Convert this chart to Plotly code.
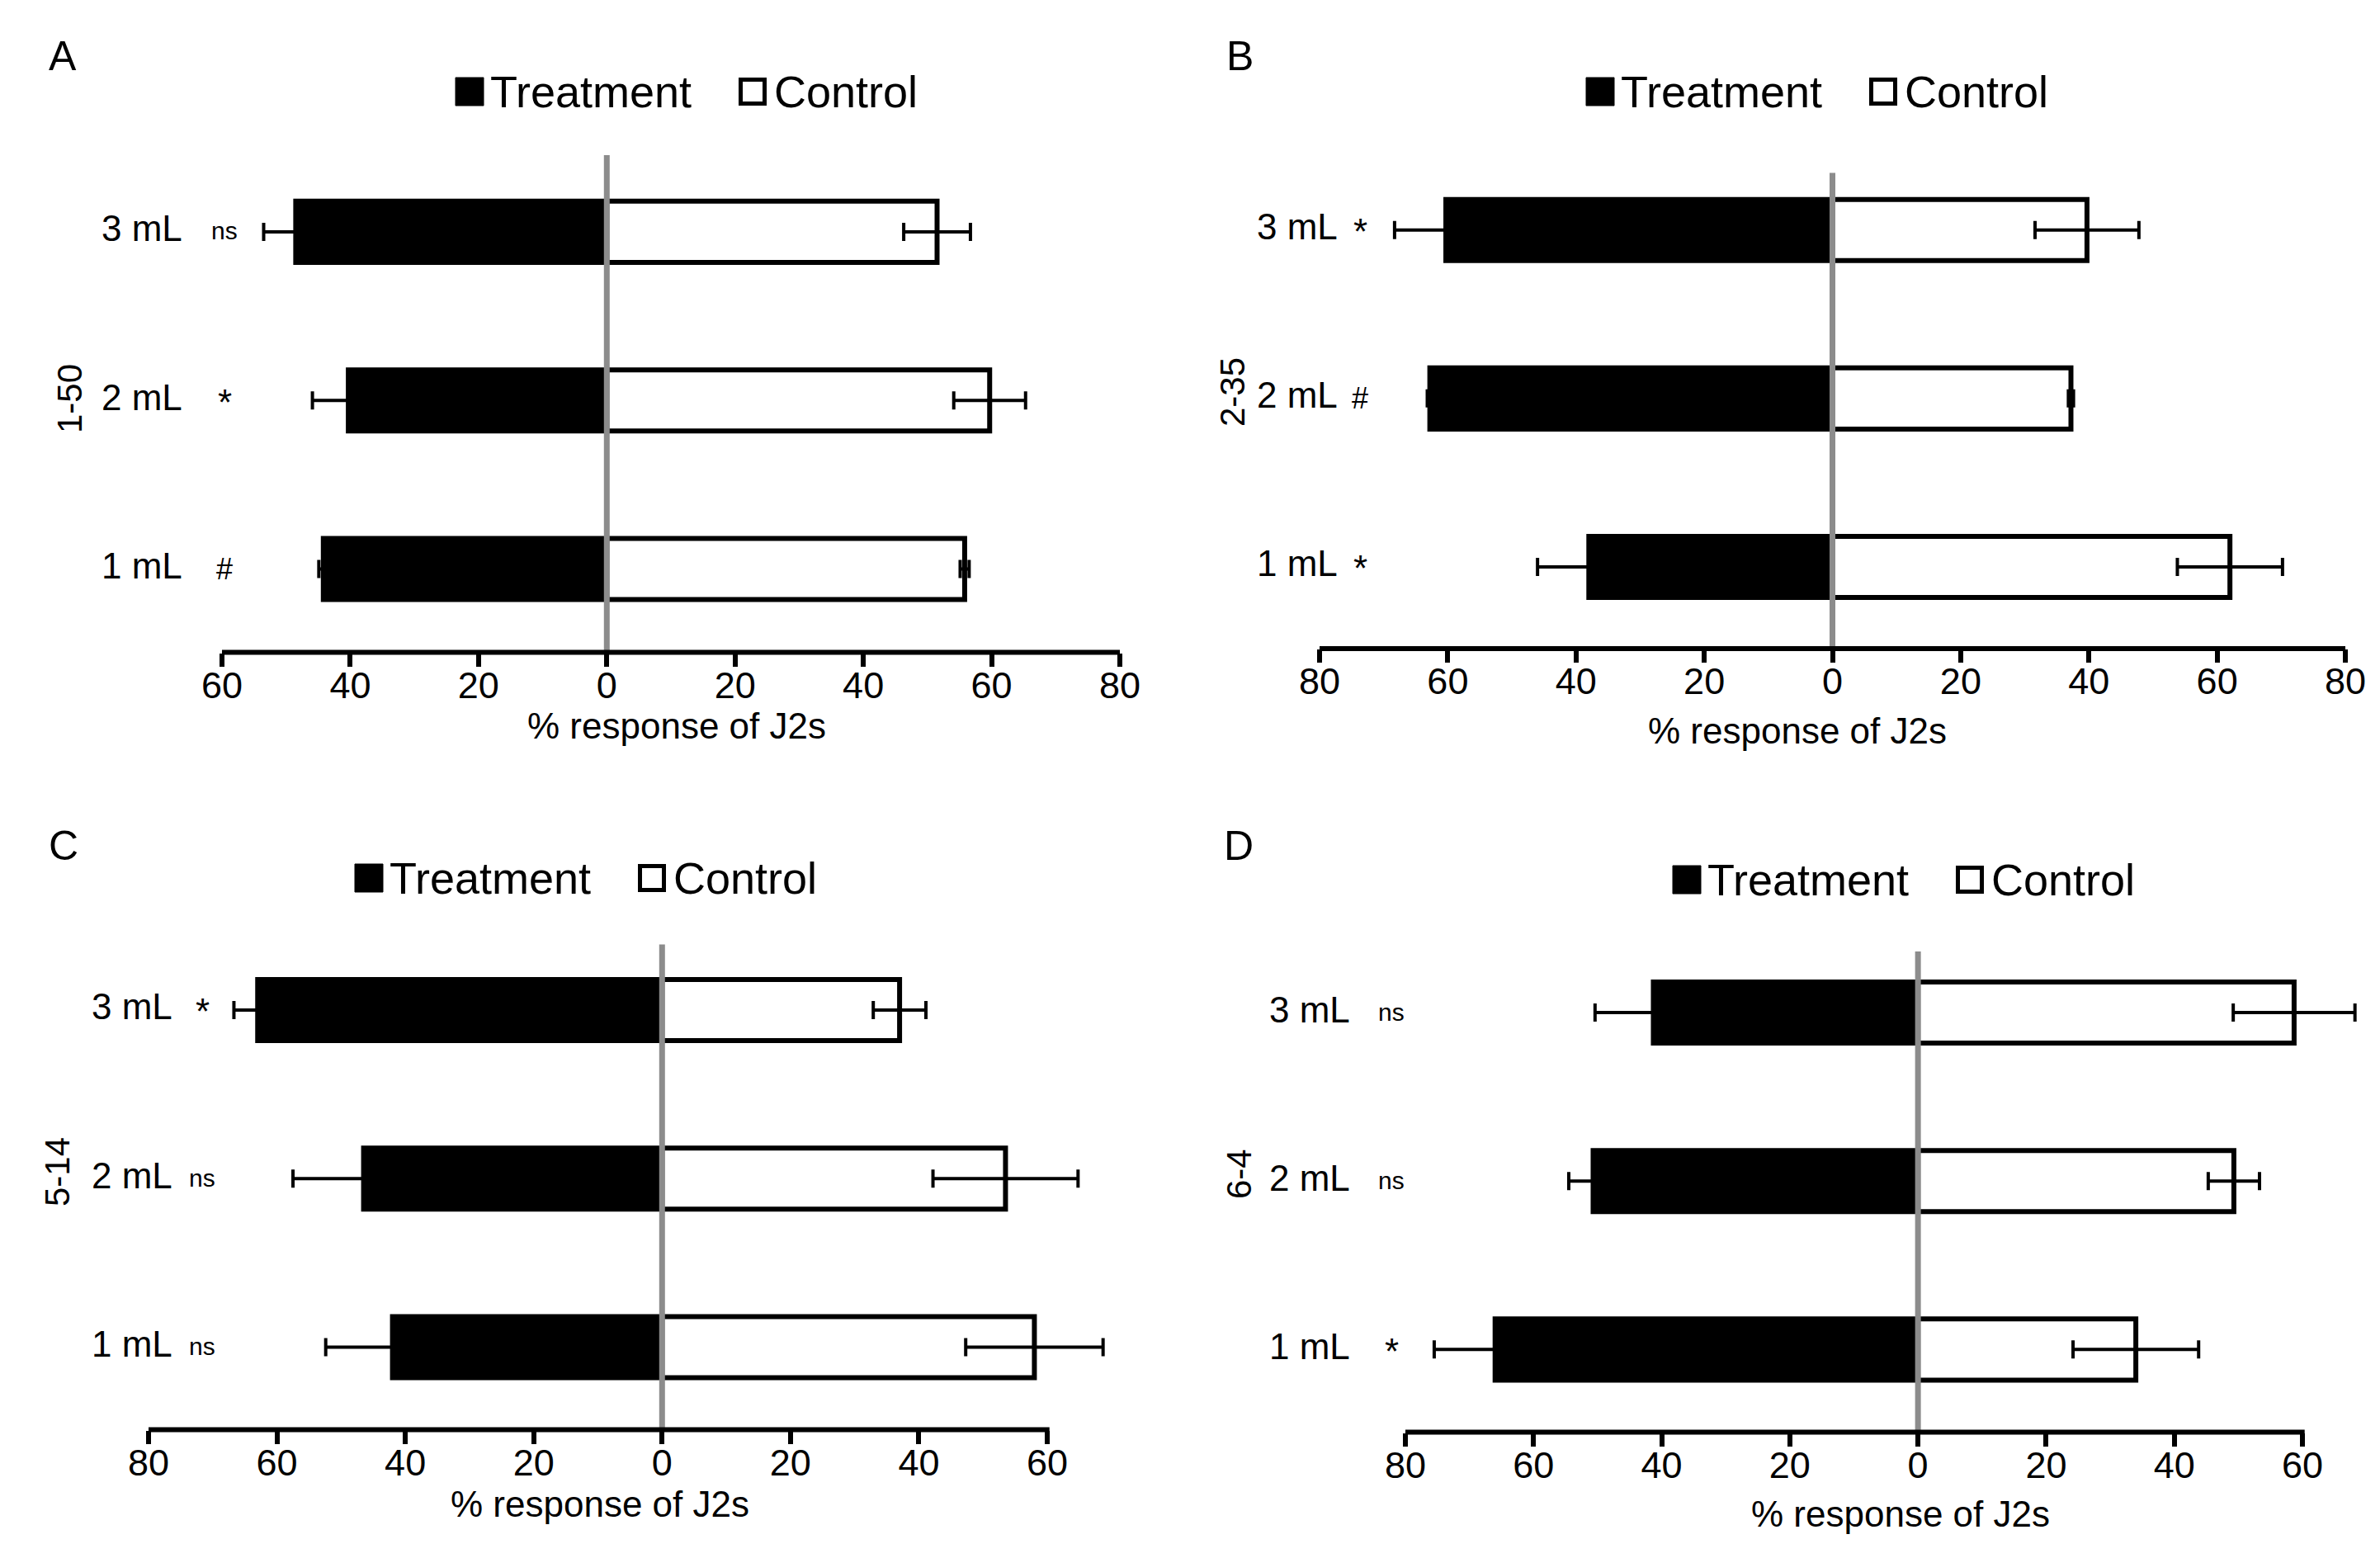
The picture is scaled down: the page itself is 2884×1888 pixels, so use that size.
import plotly.graph_objects as go

W, H = 2884, 1888
FONT = "Arial, Liberation Sans, Helvetica, sans-serif"

# ---------------- data ----------------
dose_labels = ["1 mL", "2 mL", "3 mL"]
dose_pos = [1, 2, 3]
series_names = ["Treatment", "Control"]
panel_letters = ["A", "B", "C", "D"]
isolate_labels = ["1-50", "2-35", "5-14", "6-4"]
x_title = "% response of J2s"

a_treat = [44.2, 40.3, 48.5]
a_treat_err = [0.7, 5.6, 5.0]
a_ctrl = [55.8, 59.7, 51.5]
a_ctrl_err = [0.7, 5.6, 5.2]
a_sig = ["#", "*", "ns"]

b_treat = [38.0, 62.8, 60.3]
b_treat_err = [8.0, 0.4, 8.0]
b_ctrl = [62.0, 37.2, 39.7]
b_ctrl_err = [8.2, 0.4, 8.1]
b_sig = ["*", "#", "*"]

c_treat = [42.0, 46.5, 63.0]
c_treat_err = [10.4, 11.0, 3.7]
c_ctrl = [58.0, 53.5, 37.0]
c_ctrl_err = [10.7, 11.3, 4.1]
c_sig = ["ns", "ns", "*"]

d_treat = [66.0, 50.7, 41.3]
d_treat_err = [9.5, 3.8, 9.1]
d_ctrl = [34.0, 49.3, 58.7]
d_ctrl_err = [9.8, 4.0, 9.5]
d_sig = ["*", "ns", "ns"]

x_ranges = [(-60, 80), (-80, 80), (-80, 60), (-80, 60)]
tick_step = 20

treat_vals = [a_treat, b_treat, c_treat, d_treat]
treat_errs = [a_treat_err, b_treat_err, c_treat_err, d_treat_err]
ctrl_vals = [a_ctrl, b_ctrl, c_ctrl, d_ctrl]
ctrl_errs = [a_ctrl_err, b_ctrl_err, c_ctrl_err, d_ctrl_err]
sig_marks = [a_sig, b_sig, c_sig, d_sig]

# ---------------- layout geometry (pixels in the 2884x1888 canvas) ----------------
# x0/x1: pixel positions of the axis ends (range lo / hi)
geo = [
    dict(x0=269, x1=1357, top=188, bot=790.5, yr=(0.5055, 3.455),
         lab_r=223, sig_x=272, leg_l=552, leg_y=111, let_x=57, let_y=68,
         iso_x=84, iso_y=483, tit_x=820, tit_y=879),
    dict(x0=1599, x1=2842, top=209.5, bot=786, yr=(0.515, 3.339),
         lab_r=1623, sig_x=1648, leg_l=1922, leg_y=111, let_x=1484, let_y=68,
         iso_x=1493, iso_y=475, tit_x=2178, tit_y=885),
    dict(x0=180, x1=1269, top=1144.5, bot=1732.6, yr=(0.51, 3.389),
         lab_r=211, sig_x=245, leg_l=430, leg_y=1064, let_x=57, let_y=1025,
         iso_x=69, iso_y=1420, tit_x=727, tit_y=1822),
    dict(x0=1703, x1=2790, top=1152.9, bot=1735.6, yr=(0.509, 3.363),
         lab_r=1638, sig_x=1686, leg_l=2027, leg_y=1066, let_x=1481, let_y=1025,
         iso_x=1501, iso_y=1423, tit_x=2303, tit_y=1834),
]


def fx(px):
    return px / W


def fy(py):
    return 1 - py / H


BAR_W = 0.363
fig = go.Figure()
annotations = []
shapes = []
layout_axes = {}

for i, g in enumerate(geo):
    n = "" if i == 0 else str(i + 1)
    xa, ya = "x" + n, "y" + n
    # treatment bars (left, negative direction)
    fig.add_trace(go.Bar(
        y=dose_pos, x=[-v for v in treat_vals[i]], orientation="h",
        name=series_names[0], width=BAR_W, xaxis=xa, yaxis=ya,
        marker=dict(color="black", line=dict(color="black", width=6)),
        error_x=dict(type="data", array=treat_errs[i], color="black",
                     thickness=4, width=11),
        showlegend=False,
    ))
    # control bars (right)
    fig.add_trace(go.Bar(
        y=dose_pos, x=ctrl_vals[i], orientation="h",
        name=series_names[1], width=BAR_W, xaxis=xa, yaxis=ya,
        marker=dict(color="white", line=dict(color="black", width=6)),
        error_x=dict(type="data", array=ctrl_errs[i], color="black",
                     thickness=4, width=11),
        showlegend=False,
    ))
    lo, hi = x_ranges[i]
    # leave room on the right for error bars that run past the last tick
    reach = max(v + e for v, e in zip(ctrl_vals[i], ctrl_errs[i])) + 2
    hi_view = max(hi, reach)
    scale = (g["x1"] - g["x0"]) / (hi - lo)
    x1_view = g["x0"] + (hi_view - lo) * scale
    tv = list(range(lo, hi + 1, tick_step))
    layout_axes["xaxis" + n] = dict(
        domain=[fx(g["x0"]), fx(x1_view)], range=[lo, hi_view], anchor=ya,
        tickvals=tv, ticktext=[str(abs(v)) for v in tv],
        showline=False,
        ticks="outside", ticklen=16, tickwidth=6, tickcolor="black",
        ticklabelstandoff=-16,
        tickfont=dict(family=FONT, size=45, color="black"),
        showgrid=False, zeroline=False, fixedrange=True, automargin=False,
    )
    layout_axes["yaxis" + n] = dict(
        domain=[fy(g["bot"]), fy(g["top"])], range=list(g["yr"]), anchor=xa,
        visible=False, showgrid=False, zeroline=False, fixedrange=True,
        automargin=False,
    )
    # zero line (gray, over the bars)
    shapes.append(dict(type="line", xref=xa, yref=ya + " domain", x0=0, x1=0,
                       y0=0, y1=1, line=dict(color="#8c8c8c", width=7),
                       layer="above"))
    # axis line, spanning only the tick range
    shapes.append(dict(type="line", xref=xa, yref=ya + " domain", x0=lo - 0.35,
                       x1=hi + 0.35, y0=0, y1=0,
                       line=dict(color="black", width=6), layer="above"))
    # dose labels and significance marks
    for pos, lab, mark in zip(dose_pos, dose_labels, sig_marks[i]):
        annotations.append(dict(
            text=lab, xref="paper", x=fx(g["lab_r"]), xanchor="right",
            yref=ya, y=pos, yanchor="middle", yshift=4, showarrow=False,
            font=dict(family=FONT, size=44, color="black")))
        if mark == "*":
            fs, ysh = 44, -2
        elif mark == "#":
            fs, ysh = 36, 0
        else:
            fs, ysh = 30, 1
        annotations.append(dict(
            text=mark, xref="paper", x=fx(g["sig_x"]), xanchor="center",
            yref=ya, y=pos, yanchor="middle", yshift=ysh, showarrow=False,
            font=dict(family=FONT, size=fs, color="black")))
    # axis title
    annotations.append(dict(
        text=x_title, xref="paper", x=fx(g["tit_x"]), xanchor="center",
        yref="paper", y=fy(g["tit_y"]), yanchor="middle", showarrow=False,
        font=dict(family=FONT, size=44, color="black")))
    # isolate label (rotated)
    annotations.append(dict(
        text=isolate_labels[i], xref="paper", x=fx(g["iso_x"]), xanchor="center",
        yref="paper", y=fy(g["iso_y"]), yanchor="middle", textangle=-90,
        showarrow=False, font=dict(family=FONT, size=42, color="black")))
    # panel letter
    annotations.append(dict(
        text=panel_letters[i], xref="paper", x=fx(g["let_x"]), xanchor="left",
        yref="paper", y=fy(g["let_y"]), yanchor="middle", showarrow=False,
        font=dict(family=FONT, size=50, color="black")))
    # legend (drawn swatches + text)
    L, cy = g["leg_l"], g["leg_y"]
    shapes.append(dict(type="rect", xref="paper", yref="paper",
                       x0=fx(L), x1=fx(L + 34), y0=fy(cy + 17), y1=fy(cy - 17),
                       fillcolor="black", line=dict(color="black", width=1)))
    shapes.append(dict(type="rect", xref="paper", yref="paper",
                       x0=fx(L + 345.5), x1=fx(L + 374.5),
                       y0=fy(cy + 14.5), y1=fy(cy - 14.5),
                       fillcolor="white", line=dict(color="black", width=5)))
    annotations.append(dict(
        text=series_names[0], xref="paper", x=fx(L + 40), xanchor="left",
        yref="paper", y=fy(cy), yanchor="middle", showarrow=False,
        font=dict(family=FONT, size=54, color="black")))
    annotations.append(dict(
        text=series_names[1], xref="paper", x=fx(L + 384), xanchor="left",
        yref="paper", y=fy(cy), yanchor="middle", showarrow=False,
        font=dict(family=FONT, size=54, color="black")))

fig.update_layout(
    width=W, height=H,
    margin=dict(l=0, r=0, t=0, b=0, pad=0, autoexpand=False),
    paper_bgcolor="white", plot_bgcolor="white",
    barmode="overlay", showlegend=False, hovermode=False,
    annotations=annotations, shapes=shapes,
    font=dict(family=FONT, color="black"),
    **layout_axes,
)

fig.write_html("out.html",
               config={"displayModeBar": False, "staticPlot": True},
               post_script="document.body.style.margin='0';"
                           "document.body.style.overflow='hidden';")
